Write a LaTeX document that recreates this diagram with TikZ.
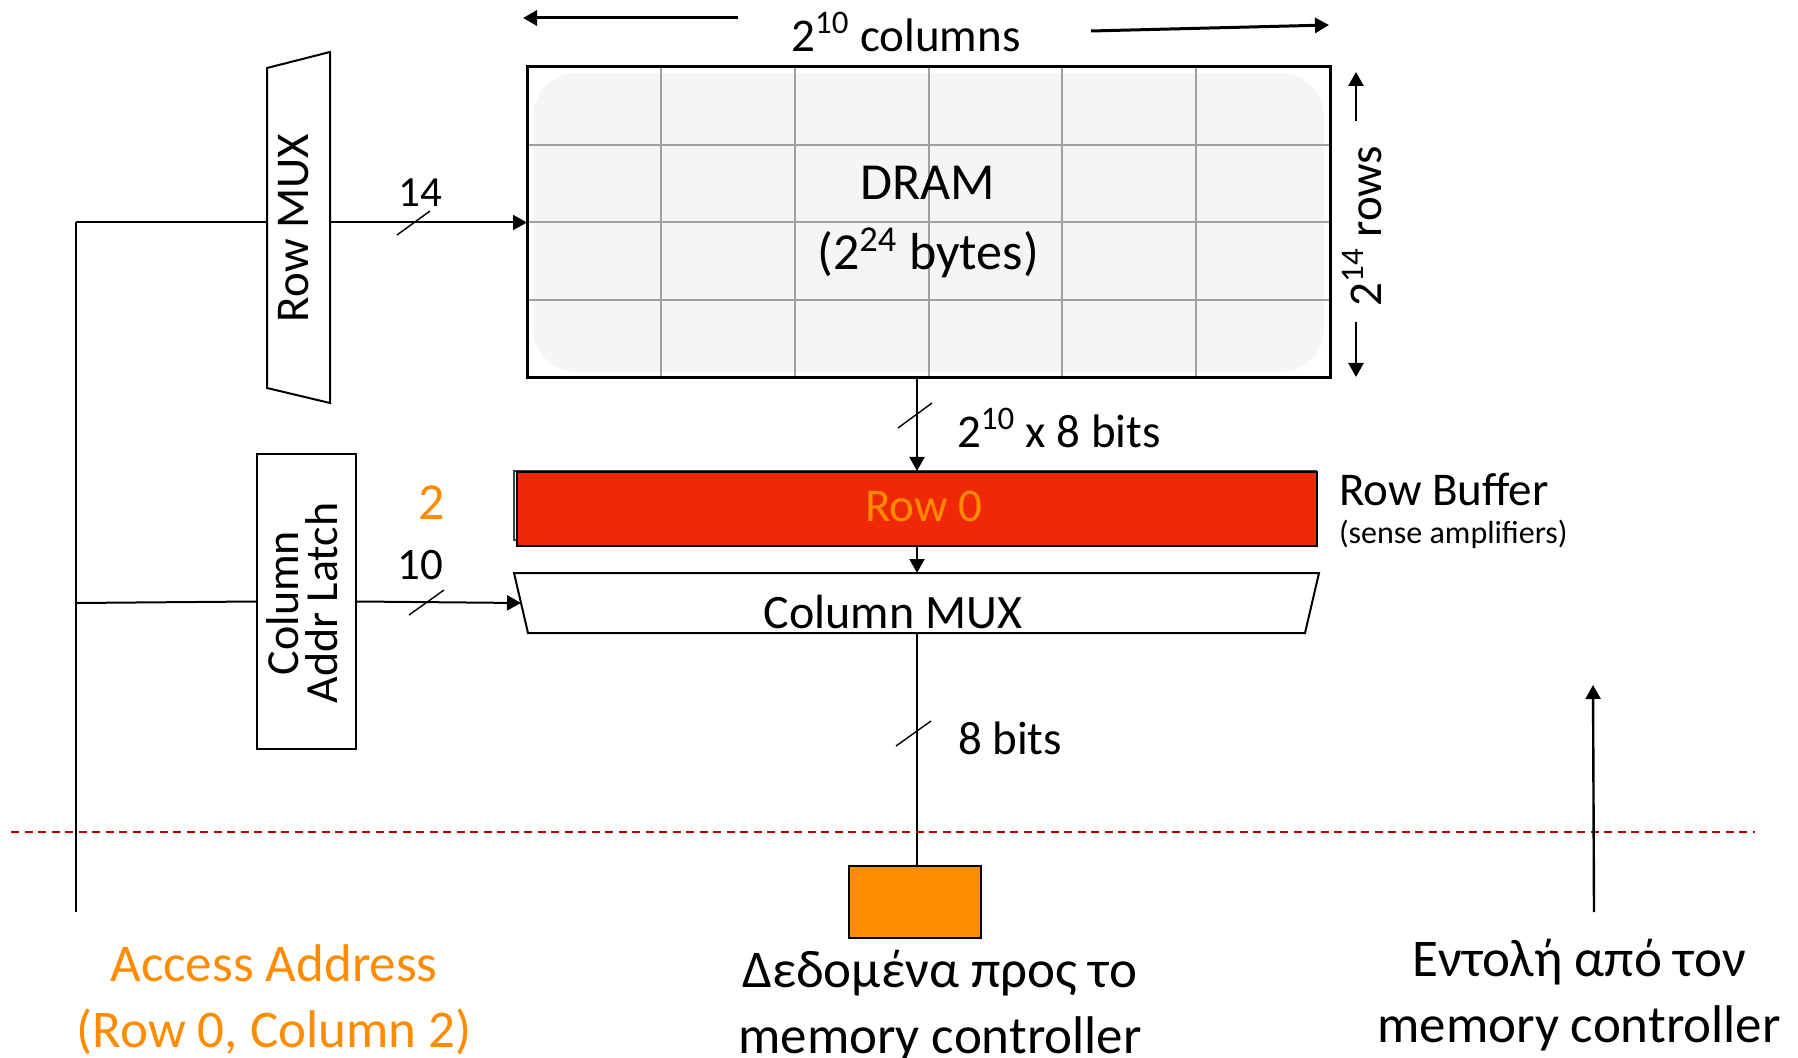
\documentclass[tikz,border=0pt]{standalone}
\usepackage{fontspec}
\setmainfont{Carlito}
\usetikzlibrary{arrows.meta,calc}
\definecolor{rbred}{RGB}{240,40,5}
\definecolor{aorange}{RGB}{255,140,0}
\definecolor{dashred}{RGB}{192,0,0}
\definecolor{cellfill}{RGB}{245,245,245}
\definecolor{gridc}{RGB}{160,160,160}
\begin{document}
\begin{tikzpicture}[x=0.5pt,y=-0.5pt, line width=1pt,
  tip/.style={-{Triangle[length=7pt,width=7.5pt]}},
  lbl/.style={inner sep=0pt, font=\fontsize{23.5}{28}\selectfont},
  biglbl/.style={inner sep=0pt, align=center, font=\fontsize{26.5}{33}\selectfont},
  slashln/.style={line width=0.7pt},
  gridln/.style={gridc, line width=1pt}]
\useasboundingbox (0,0) rectangle (1798,1058);

% DRAM array
\node[minimum width=400.5pt, minimum height=154.5pt, inner sep=0pt] (dram) at (928.5,222.5) {};
\fill[cellfill, rounded corners=22pt] ($(dram.north west)+(6,6)$) rectangle ($(dram.south east)+(-6,-6)$);
\foreach \k in {1,...,5}
  \draw[gridln] ($(dram.north west)!\k/6!(dram.north east)$) -- ($(dram.south west)!\k/6!(dram.south east)$);
\foreach \k in {1,...,3}
  \draw[gridln] ($(dram.north west)!\k/4!(dram.south west)$) -- ($(dram.north east)!\k/4!(dram.south east)$);
\draw[line width=1.5pt] (dram.north west) rectangle (dram.south east);
\node[inner sep=0pt, align=center, font=\fontsize{26}{35}\selectfont] (dramlbl) at (928,222) {DRAM\\(2\textsuperscript{24} bytes)};

% columns label
\node[lbl] (cols) at (906,32) {2\textsuperscript{10} columns};
\coordinate (cl1) at (738,18); \coordinate (cl2) at (523,18);
\coordinate (cr1) at (1091,31); \coordinate (cr2) at (1329,25);
\draw[tip, line width=1.5pt] (cl1) -- (cl2);
\draw[tip, line width=1.5pt] (cr1) -- (cr2);

% rows label
\node[lbl, rotate=90] (rows) at (1362,226) {2\textsuperscript{14} rows};
\coordinate (ru1) at (1356,121); \coordinate (ru2) at (1356,72);
\coordinate (rd1) at (1356,322); \coordinate (rd2) at (1356,377);
\draw[tip, line width=1.2pt] (ru1) -- (ru2);
\draw[tip, line width=1.2pt] (rd1) -- (rd2);

% Row MUX
\coordinate (rm1) at (267,68); \coordinate (rm2) at (330,52);
\coordinate (rm3) at (330,403); \coordinate (rm4) at (267,388);
\draw (rm1) -- (rm2) -- (rm3) -- (rm4) -- cycle;
\node[lbl, rotate=90] (rowmux) at (294,228) {Row MUX};
\coordinate (rmin) at (267,222.5);
\coordinate (rmout) at (330,222.5);
\draw[tip] (rmout) -- (dram.west);
\draw[slashln] (397,235) -- (430,211);
\node[inner sep=0pt, font=\fontsize{21.5}{26}\selectfont] (n14) at (420,193) {14};

% address bus
\coordinate (busTop) at (76,222.5);
\coordinate (busBot) at (76,912);
\draw (busTop) -- (busBot);
\draw (busTop) -- (rmin);

% Column Addr Latch
\node[draw, minimum width=49.5pt, minimum height=147.5pt, inner sep=0pt] (latch) at (306.5,601.5) {};
\node[inner sep=0pt, align=center, rotate=90, font=\fontsize{23}{19.5}\selectfont] (latchlbl) at (302,603) {Column\\Addr Latch};
\coordinate (busC) at (76,603);
\draw (busC) -- (latch.west);
\coordinate (cmin) at (521,603);
\draw[tip] (latch.east) -- (cmin);
\draw[slashln] (409,615) -- (444,590);
\node[inner sep=0pt, font=\fontsize{22.5}{26}\selectfont] (n10) at (420,565) {10};
\node[inner sep=0pt, text=aorange, font=\fontsize{26}{30}\selectfont] (n2) at (432,503) {2};

% Row buffer
\draw[black!75, line width=0.8pt] (514,471) rectangle (1316,540);
\node[draw, fill=rbred, minimum width=400pt, minimum height=37pt, inner sep=0pt] (rb) at (917,509) {};
\node[lbl, text=aorange] (row0) at (924,506) {Row 0};
\draw[tip] (dram.south -| rb.north) -- (rb.north);
\draw[slashln] (898,428) -- (932,403);
\node[lbl, anchor=west] (bits1) at (956,428) {2\textsuperscript{10} x 8 bits};
\node[lbl, anchor=west] (rbl) at (1338,489) {Row Buffer};
\node[inner sep=0pt, anchor=west, font=\fontsize{16}{20}\selectfont] (sense) at (1338,534) {(sense amplifiers)};

% Column MUX
\coordinate (cm1) at (514,573); \coordinate (cm2) at (1319,573);
\coordinate (cm3) at (1305,633); \coordinate (cm4) at (528,633);
\draw (cm1) -- (cm2) -- (cm3) -- (cm4) -- cycle;
\node[inner sep=0pt, font=\fontsize{24}{28}\selectfont] (colmux) at (893,612) {Column MUX};
\coordinate (cmtop) at (917,573);
\coordinate (cmbot) at (917,633);
\draw[tip] (rb.south) -- (cmtop);

% data output
\node[draw, fill=aorange, minimum width=66pt, minimum height=36pt, inner sep=0pt] (obox) at (915,902) {};
\draw (cmbot) -- (cmbot |- obox.north);
\draw[slashln] (896,746) -- (931,721);
\node[lbl, anchor=west] (bits2) at (957,738) {8 bits};

% boundary
\coordinate (dl1) at (11,832); \coordinate (dl2) at (1755,832);
\draw[dashred, line width=1pt, dash pattern=on 4pt off 2.75pt] (dl1) -- (dl2);

% command arrow
\coordinate (ca1) at (1594,912); \coordinate (ca2) at (1593,685);
\draw[tip, line width=1.2pt] (ca1) -- (ca2);

% bottom labels
\node[biglbl, text=aorange] (acc) at (274,1000) {Access Address\\(Row 0, Column 2)};
\node[biglbl] (data) at (940,1006) {Δεδομένα προς το\\memory controller};
\node[biglbl] (cmd) at (1579,995) {Εντολή από τον\\memory controller};
\end{tikzpicture}
\end{document}
